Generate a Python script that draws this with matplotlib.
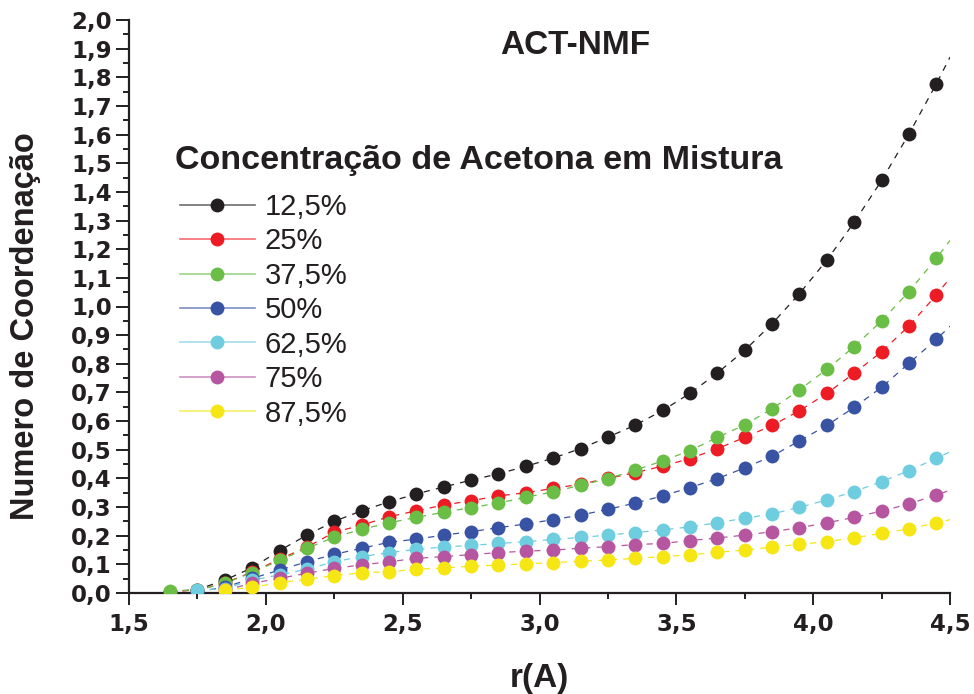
import numpy as np
import matplotlib
matplotlib.use("Agg")
import matplotlib.pyplot as plt
from matplotlib.lines import Line2D
from matplotlib.colors import to_rgba

# r values (Angstrom) sampled every 0.1
r_all = [1.65, 1.75, 1.85, 1.95, 2.05, 2.15, 2.25, 2.35, 2.45, 2.55,
         2.65, 2.75, 2.85, 2.95, 3.05, 3.15, 3.25, 3.35, 3.45, 3.55,
         3.65, 3.75, 3.85, 3.95, 4.05, 4.15, 4.25, 4.35, 4.45]

labels = ["12,5%", "25%", "37,5%", "50%", "62,5%", "75%", "87,5%"]
colors = ["#231f20", "#ed1c24", "#6abd45", "#3953a4", "#6fcde0", "#b656a0", "#f5e614"]

# first r index where each series begins
start_idx = [0, 0, 0, 1, 1, 2, 2]

n_125 = [0.005, 0.012, 0.045, 0.088, 0.148, 0.202, 0.250, 0.287, 0.318, 0.346,
         0.370, 0.394, 0.416, 0.442, 0.471, 0.504, 0.544, 0.586, 0.637, 0.697,
         0.768, 0.847, 0.940, 1.045, 1.162, 1.294, 1.440, 1.602, 1.777]
n_25 = [0.005, 0.010, 0.035, 0.073, 0.118, 0.160, 0.212, 0.237, 0.266, 0.287,
        0.307, 0.322, 0.339, 0.350, 0.365, 0.380, 0.400, 0.420, 0.443, 0.469,
        0.504, 0.543, 0.585, 0.636, 0.697, 0.767, 0.842, 0.932, 1.040]
n_375 = [0.008, 0.010, 0.034, 0.071, 0.114, 0.156, 0.195, 0.222, 0.245, 0.264,
         0.282, 0.298, 0.314, 0.334, 0.353, 0.376, 0.399, 0.429, 0.461, 0.497,
         0.543, 0.587, 0.643, 0.709, 0.781, 0.860, 0.950, 1.052, 1.168]
n_50 = [0.005, 0.020, 0.051, 0.080, 0.109, 0.135, 0.156, 0.177, 0.188,
        0.202, 0.214, 0.228, 0.241, 0.256, 0.272, 0.292, 0.314, 0.339, 0.368,
        0.399, 0.437, 0.478, 0.531, 0.585, 0.648, 0.718, 0.802, 0.885]
n_625 = [0.010, 0.015, 0.045, 0.063, 0.083, 0.109, 0.127, 0.141, 0.152,
         0.161, 0.166, 0.173, 0.179, 0.187, 0.194, 0.202, 0.211, 0.220, 0.231,
         0.245, 0.261, 0.276, 0.299, 0.325, 0.354, 0.389, 0.427, 0.470]
n_75 = [0.010, 0.034, 0.051, 0.069, 0.086, 0.098, 0.109, 0.121,
        0.127, 0.134, 0.141, 0.146, 0.150, 0.156, 0.162, 0.169, 0.173, 0.183,
        0.192, 0.202, 0.214, 0.228, 0.245, 0.264, 0.286, 0.311, 0.342]
n_875 = [0.010, 0.020, 0.036, 0.048, 0.060, 0.071, 0.074, 0.083,
         0.087, 0.094, 0.097, 0.102, 0.106, 0.111, 0.115, 0.121, 0.127, 0.133,
         0.142, 0.150, 0.160, 0.170, 0.179, 0.193, 0.208, 0.224, 0.245]
series = [n_125, n_25, n_375, n_50, n_625, n_75, n_875]

x_ticks = [1.5, 2.0, 2.5, 3.0, 3.5, 4.0, 4.5]
x_ticklabels = ["1,5", "2,0", "2,5", "3,0", "3,5", "4,0", "4,5"]
y_ticks = [round(0.1 * i, 1) for i in range(21)]
y_ticklabels = [f"{v:.1f}".replace(".", ",") for v in y_ticks]
r_max = 4.5

INK = "#231f20"
W, H = 974, 694

fig = plt.figure(figsize=(W / 100, H / 100), dpi=100)
ax = fig.add_axes([129 / W, 1 - 593 / H, 821 / W, 573 / H])

for y, c, s in zip(series, colors, start_idx):
    x = np.array(r_all[s:])
    y = np.array(y)
    # dashed trend line continued to the end of the axis with a quadratic
    coef = np.polyfit(x[-4:], y[-4:], 2)
    xl = np.append(x, r_max)
    yl = np.append(y, np.polyval(coef, r_max))
    ax.plot(xl, yl, color=c, lw=0.9, dashes=(5, 5), zorder=2)
    ax.plot(x, y, 'o', color=c, ms=10, mec='none', zorder=3)

ax.set_xlim(1.5, 4.5)
ax.set_ylim(0, 2.0)
ax.set_xticks(x_ticks)
ax.set_xticklabels(x_ticklabels, fontsize=16.5, fontweight='bold',
                   family='DejaVu Sans', color=INK)
ax.set_xticks([1.75, 2.25, 2.75, 3.25, 3.75, 4.25], minor=True)
ax.set_yticks(y_ticks)
ax.set_yticklabels(y_ticklabels, fontsize=16.5, fontweight='bold',
                   family='DejaVu Sans', color=INK)
ax.set_yticks([round(0.05 + 0.1 * i, 2) for i in range(20)], minor=True)

for sp in ["top", "right"]:
    ax.spines[sp].set_visible(False)
for sp in ["left", "bottom"]:
    ax.spines[sp].set_linewidth(1.6)
    ax.spines[sp].set_color(INK)

ax.tick_params(axis='x', which='major', direction='out', length=8.5, width=1.4,
               color=INK, pad=6)
ax.tick_params(axis='y', which='major', direction='out', length=9.5, width=1.4,
               color=INK, pad=3)
ax.tick_params(axis='both', which='minor', direction='out', length=4, width=1.4,
               color=INK)

ax.set_xlabel("r(A)", fontsize=24, fontweight='bold', family='Liberation Sans',
              color=INK)
ax.xaxis.set_label_coords(0.5, -(678 - 593) / 573, transform=ax.transAxes)
ax.xaxis.label.set_va('center')
ax.set_ylabel("Numero de Coordenação", fontsize=23.5, fontweight='bold',
              family='Liberation Sans', color=INK)
ax.yaxis.set_label_coords(-(129 - 26) / 821, (593 - 326) / 573)
ax.yaxis.label.set_va('center')

fig.text(575 / W, 1 - 45 / H, "ACT-NMF", ha='center', va='center',
         fontsize=24, fontweight='bold', family='Liberation Sans', color=INK)

fig.text(175 / W, 1 - 160 / H, "Concentração de Acetona em Mistura",
         ha='left', va='center', fontsize=24.5, fontweight='bold',
         family='Liberation Sans', color=INK)

handles = [Line2D([0], [0], color=to_rgba(c, 0.65), lw=1.2, marker='o', ms=10,
                  mfc=c, mec='none') for c in colors]
leg = ax.legend(handles, labels, loc='upper left',
                bbox_to_anchor=(180 / W, 1 - 193 / H),
                bbox_transform=fig.transFigure, frameon=False,
                prop={'family': 'Liberation Sans', 'size': 21},
                handlelength=2.57, handletextpad=0.34,
                labelspacing=0.22, borderpad=0, borderaxespad=0)
for t in leg.get_texts():
    t.set_color(INK)

fig.savefig("out.png", dpi=100)
